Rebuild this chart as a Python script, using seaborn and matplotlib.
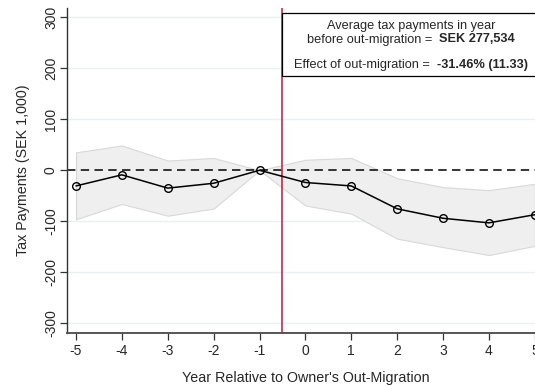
import numpy as np
import pandas as pd
import matplotlib
matplotlib.use("Agg")
import matplotlib.pyplot as plt
import seaborn as sns
from matplotlib.patches import Rectangle

years = [-5, -4, -3, -2, -1, 0, 1, 2, 3, 4, 5]
estimate = [-30.7, -9, -35, -25.5, 0, -24, -30.7, -75.5, -94, -103, -87]
ci_upper = [35, 48.5, 19, 24, 0, 20.5, 24, -15.5, -33, -39, -26.5]
ci_lower = [-96, -66, -89, -75, 0, -69, -85, -134, -150.5, -166, -148]
y_ticks = [-300, -200, -100, 0, 100, 200, 300]
box_line1 = "Average tax payments in year"
box_line2 = ("before out-migration =  ", "SEK 277,534")
box_line3 = ("Effect of out-migration =  ", "-31.46% (11.33)")
xlabel = "Year Relative to Owner's Out-Migration"
ylabel = "Tax Payments (SEK 1,000)"

sns.set_style("white")
plt.rcParams['font.family'] = ['Liberation Sans', 'DejaVu Sans']
plt.rcParams['axes.unicode_minus'] = False

df = pd.DataFrame({"year": years, "est": estimate, "lo": ci_lower, "hi": ci_upper})

W, H = 535, 387
fig = plt.figure(figsize=(W / 100, H / 100), dpi=100)
ax = fig.add_axes([67/W, 1-333/H, (544-67)/W, (333-8)/H])

for yt in y_ticks:
    if yt != 0:
        ax.axhline(yt, color="#e8f0f1", lw=1.0, zorder=0)

ax.fill_between(df["year"], df["lo"], df["hi"], facecolor="#efefef",
                edgecolor="#d8d8d8", lw=0.8, zorder=1)
ax.axhline(0, color="black", lw=1.1, ls=(0, (5.5, 3.5)), zorder=2)
ax.axvline(-0.5, color="#d0103a", lw=1.1, zorder=3)

sns.lineplot(data=df, x="year", y="est", ax=ax, color="black", lw=1.1,
             marker="o", markersize=5.5, markerfacecolor="none",
             markeredgecolor="black", markeredgewidth=1.0, zorder=4)

ax.set_xlim(-5.196, 5.2)
ax.set_ylim(-318.6, 317.6)
ax.set_xticks(years)
ax.set_xticklabels([str(y) for y in years])
ax.set_yticks(y_ticks)
ax.set_yticklabels([str(y) for y in y_ticks], rotation=90, va="center")
ax.tick_params(axis="both", direction="out", length=5, width=0.9, color="#333333",
               labelsize=10, left=True, bottom=True)
ax.tick_params(axis="x", pad=3)
ax.tick_params(axis="y", pad=1.5)
for side in ["top", "right"]:
    ax.spines[side].set_visible(False)
ax.spines["left"].set_color("#333333")
ax.spines["bottom"].set_color("#555555")
ax.spines["left"].set_linewidth(1.0)
ax.spines["bottom"].set_linewidth(1.4)

ax.set_xlabel(xlabel, fontsize=10.3, labelpad=9)
ax.set_ylabel(ylabel, fontsize=10.3, labelpad=10)

rect = Rectangle((-0.5, 185.3), 6.0, 121.6, facecolor="white", edgecolor="black",
                 lw=0.9, zorder=5, clip_on=False)
ax.add_patch(rect)

xc = 411
fs = 9.2
fig.text(xc / W, 1 - 26.5 / H, box_line1, ha="center", va="center", fontsize=fs, zorder=6)

renderer = fig.canvas.get_renderer()

def mixed_line(parts, ycen):
    t1 = fig.text(0, 1 - ycen / H, parts[0], ha="left", va="center", fontsize=fs, zorder=6)
    t2 = fig.text(0, 1 - ycen / H, parts[1], ha="left", va="center", fontsize=fs,
                  fontweight="bold", zorder=6)
    w1 = t1.get_window_extent(renderer).width
    w2 = t2.get_window_extent(renderer).width
    x0 = xc - (w1 + w2) / 2
    t1.set_x(x0 / W)
    t2.set_x((x0 + w1) / W)

mixed_line(box_line2, 39.5)
mixed_line(box_line3, 65)

fig.savefig("out.png", dpi=100)
